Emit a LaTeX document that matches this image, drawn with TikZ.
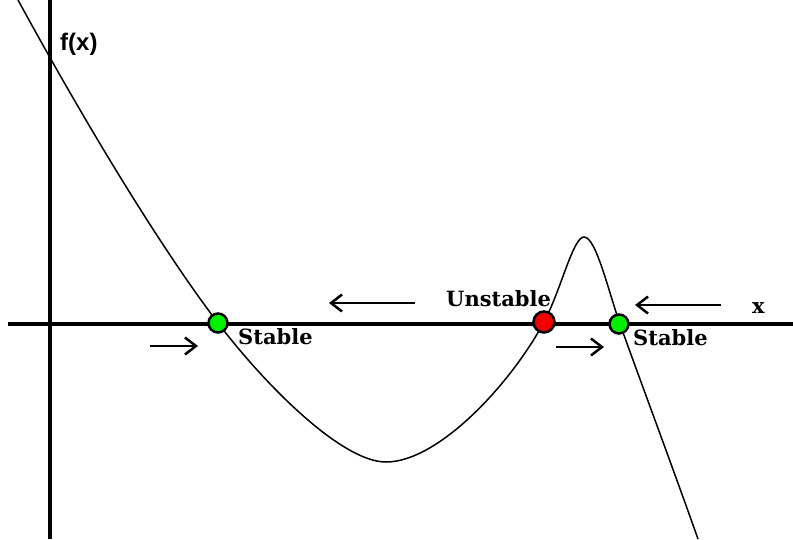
\documentclass[tikz,border=0pt]{standalone}
\usepackage{fontspec}
\setmainfont{DejaVu Serif}
\newfontfamily\labelsans{Liberation Sans}
\usetikzlibrary{arrows.meta}
\definecolor{stablegreen}{RGB}{0,240,0}
\definecolor{unstablered}{RGB}{240,0,0}
\tikzset{
  axisline/.style={line width=3.2pt, black},
  curveline/.style={line width=1.5pt, black},
  flowarrow/.style={line width=2.5pt, -{Straight Barb[length=11pt,width=17pt,line width=2.5pt]}},
  fixedpt/.style={circle, draw=black, line width=2.5pt, minimum size=19pt, inner sep=0pt},
  tag/.style={font=\fontsize{21}{24}\selectfont\bfseries, inner sep=0pt},
}
\begin{document}
\begin{tikzpicture}[x=1pt,y=-1pt]
  \useasboundingbox (0,0) rectangle (793,539);
  % axes
  \coordinate (yb) at (50,539);
  \coordinate (yt) at (50,0);
  \coordinate (xl) at (8,324);
  \coordinate (xr) at (793,324);
  \draw[axisline] (yb) -- (yt);
  \draw[axisline] (xl) -- (xr);
  % the function f(x)
  \draw[curveline] (18,0) .. controls (100,150) and (170,260) .. (218,323)
    .. controls (266,386) and (342,462) .. (386,462)
    .. controls (438,462) and (510,385) .. (544,322)
    .. controls (561,290) and (573,237) .. (584,237)
    .. controls (596,237) and (608,290) .. (620,324)
    .. controls (640,380) and (670,460) .. (698,539);
  % flow direction arrows
  \coordinate (a1s) at (150,346); \coordinate (a1e) at (198,346);
  \coordinate (a2s) at (415,303); \coordinate (a2e) at (329,303);
  \coordinate (a3s) at (556,347); \coordinate (a3e) at (604,347);
  \coordinate (a4s) at (721,305); \coordinate (a4e) at (635,305);
  \draw[flowarrow] (a1s) -- (a1e);
  \draw[flowarrow] (a2s) -- (a2e);
  \draw[flowarrow] (a3s) -- (a3e);
  \draw[flowarrow] (a4s) -- (a4e);
  % fixed points
  \node[fixedpt, fill=stablegreen] (s1) at (218,323) {};
  \node[fixedpt, fill=unstablered, minimum size=21pt] (u1) at (544,322) {};
  \node[fixedpt, fill=stablegreen] (s2) at (619,324) {};
  % labels
  \node[font=\labelsans\fontsize{24}{28}\selectfont\bfseries, anchor=base west, inner sep=0pt] (fx) at (60,50) {f(x)};
  \node[tag, anchor=base west] (l1) at (238,344) {Stable};
  \node[tag, anchor=base west] (l2) at (446,306) {Unstable};
  \node[tag, anchor=base west] (l3) at (633,345) {Stable};
  \node[tag, anchor=base west] (lx) at (752,313) {x};
\end{tikzpicture}
\end{document}
